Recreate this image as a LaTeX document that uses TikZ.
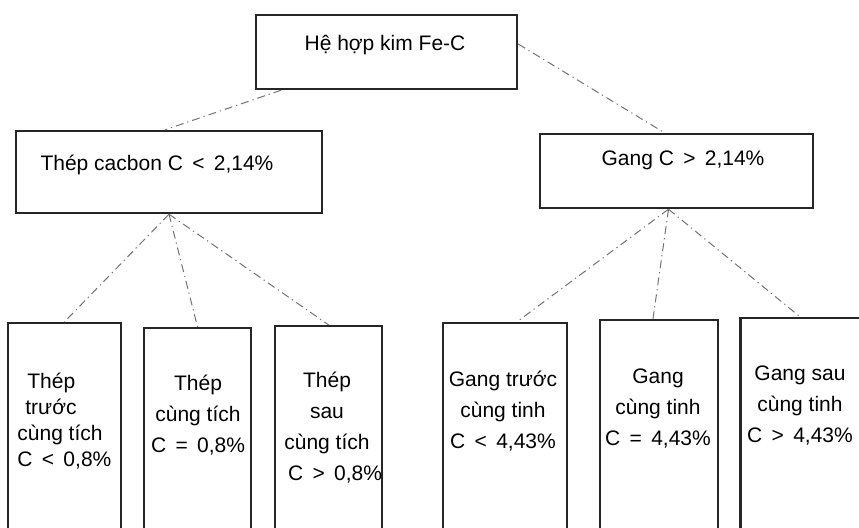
\documentclass[tikz,border=0pt]{standalone}
\usepackage{fontspec}
\setmainfont{Liberation Sans}
\usetikzlibrary{calc, positioning}

\begin{document}
\begin{tikzpicture}[
  x=0.5pt, y=-0.5pt,
  box/.style={draw=black!85, line width=1.2pt, inner sep=0pt},
  link/.style={black!55, line width=0.5pt, dash pattern=on 4pt off 2pt on 0.6pt off 2pt},
  txt/.style={inner sep=0pt, font=\fontsize{10.5}{15.5}\selectfont, align=center}
]
\useasboundingbox (0,0) rectangle (859,527);

% ================= ROOT =================
\node[box, minimum width=130.5pt, minimum height=37pt] (R) at (386.5,52) {};
\node[txt] (Rt) at (385,45) {Hệ hợp kim Fe-C};

% ================= LEVEL 1 =================
\node[box, minimum width=153pt, minimum height=41pt] (L) at (169,172) {};
\node[txt] (Lt) at (157,165) {Thép cacbon C \,<\, 2,14\%};

\node[box, minimum width=136.5pt, minimum height=37pt] (G) at (676.5,171) {};
\node[txt] (Gt) at (683,160) {Gang C \,>\, 2,14\%};

% ================= STEEL =================
\node[box, minimum width=56.5pt, minimum height=112.5pt] (L1) at (64.5,435.5) {};
\node[box, minimum width=53.5pt, minimum height=110pt]   (L2) at (197.5,438) {};
\node[box, minimum width=53.5pt, minimum height=111pt]   (L3) at (328.5,437) {};

\node[txt, align=left, anchor=west, font=\fontsize{10.5}{13}\selectfont] (L1t) at (17,421)
  {\hspace{5pt}Thép\\ \hspace{4pt}trước\\ cùng tích\\ C \,<\, 0,8\%};
\node[txt] (L2t) at (198,415) {Thép\\ cùng tích\\ C \,=\, 0,8\%};
\node[txt] (L3t) at (327,428) {Thép\\ sau\\ cùng tích\\ \hspace{8pt}C \,>\, 0,8\%};

% ================= CAST IRON =================
\node[box, minimum width=62pt, minimum height=112.5pt]  (G1) at (505,435.5) {};
\node[box, minimum width=59pt, minimum height=114pt]    (G2) at (659,434) {};
\node[box, minimum width=79.5pt, minimum height=115pt]  (G3) at (820,433) {};

\node[txt] (G1t) at (503,411.5) {Gang trước\\ cùng tinh\\ C \,<\, 4,43\%};
\node[txt] (G2t) at (658,409) {Gang\\ cùng tinh\\ C \,=\, 4,43\%};
\node[txt] (G3t) at (800,406) {Gang sau\\ cùng tinh\\ C \,>\, 4,43\%};

% ===== links =====
\draw[link] ($(R.south west)!0.1!(R.south east)$) -- ([xshift=-2pt]L.north);
\draw[link] ([yshift=4pt]R.east) -- ([xshift=-6pt]G.north);

\foreach \i in {1,2,3}
  \draw[link] (L.south) -- (L\i.north);

\draw[link] ([xshift=-4pt]G.south) -- ([xshift=6pt]G1.north);
\draw[link] ([xshift=-4pt]G.south) -- ([xshift=-3pt]G2.north);
\draw[link] ([xshift=-4pt]G.south) -- ([xshift=-10pt]G3.north);
\end{tikzpicture}
\end{document}
